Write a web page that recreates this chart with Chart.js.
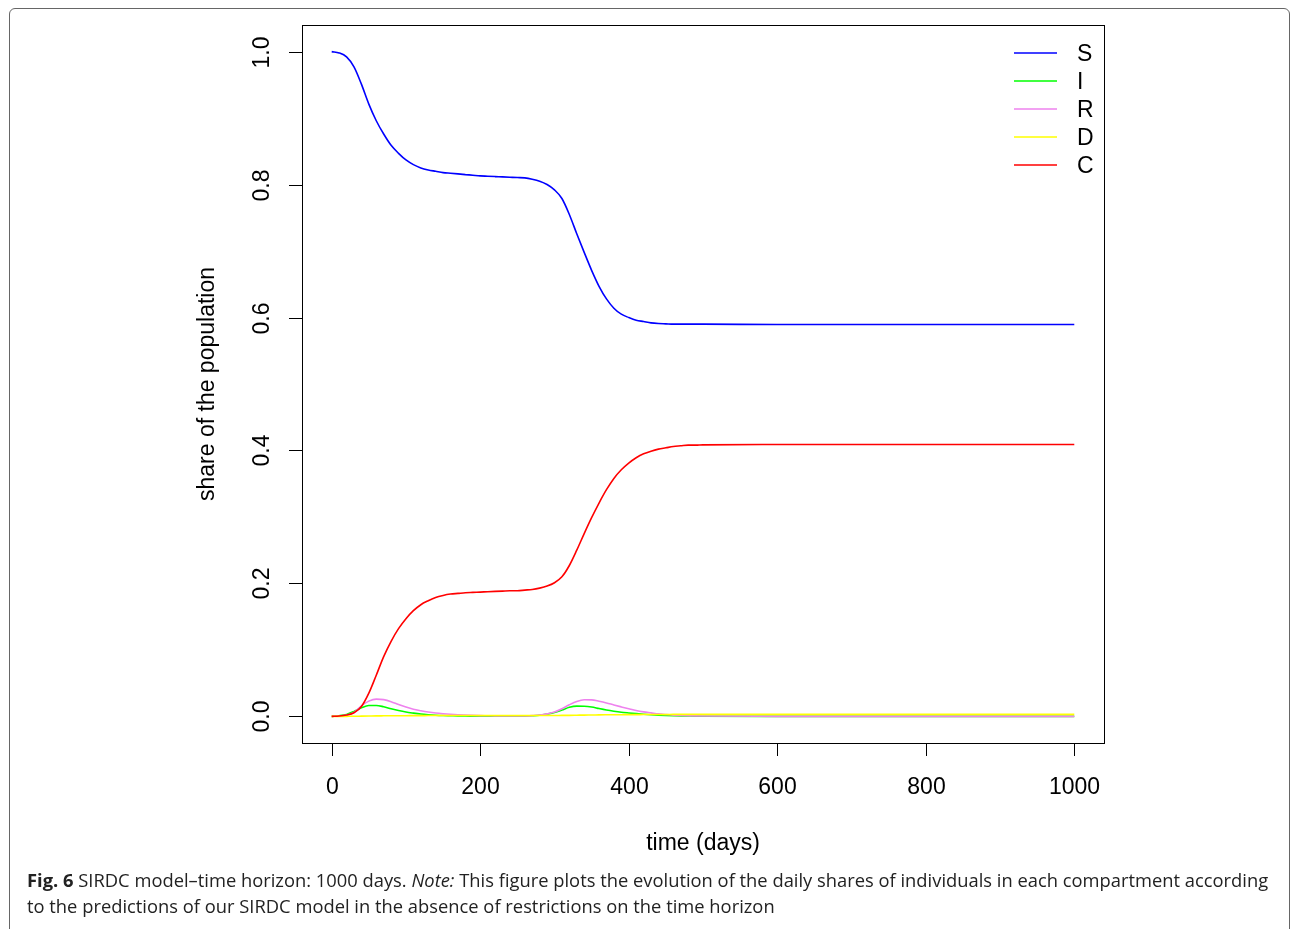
<!DOCTYPE html>
<html>
<head>
<meta charset="utf-8">
<script src="https://cdn.jsdelivr.net/npm/chart.js@4.4.1/dist/chart.umd.min.js"></script>
<style>
  html, body { margin: 0; padding: 0; background: #fff; }
  body { width: 1293px; height: 929px; position: relative; overflow: hidden; }
  #frame {
    position: absolute; left: 9px; top: 8px; width: 1281px; height: 940px;
    border: 1px solid #666; border-radius: 6px; box-sizing: border-box;
  }
  #plot { position: absolute; left: 0; top: 0; }
  .cap {
    position: absolute; left: 27px; font-family: "Open Sans", "Noto Sans", sans-serif;
    font-size: 18px; color: #222; white-space: nowrap; transform-origin: 0 0;
  }
  .cap b { font-weight: 700; }
</style>
</head>
<body>
<div id="frame"></div>
<canvas id="plot" width="1293" height="929"></canvas>
<div class="cap" id="cap1" style="top:868px"><b>Fig. 6</b> SIRDC model–time horizon: 1000 days. <i>Note:</i> This figure plots the evolution of the daily shares of individuals in each compartment according</div>
<div class="cap" id="cap2" style="top:894px">to the predictions of our SIRDC model in the absence of restrictions on the time horizon</div>
<script>
// time grid (days) and shares
const days = [0, 10, 20, 30, 40, 50, 60, 70, 80, 90,
  100, 110, 120, 130, 140, 150, 160, 170, 180, 190,
  200, 210, 220, 230, 240, 250, 260, 270, 280, 290,
  300, 310, 320, 330, 340, 350, 360, 370, 380, 390,
  400, 410, 420, 430, 440, 450, 460, 470, 480, 490,
  500, 600, 700, 800, 900, 1000];

const sVals = [1.000, 0.998, 0.992, 0.977, 0.951, 0.921, 0.896, 0.876, 0.859, 0.847,
  0.837, 0.830, 0.825, 0.822, 0.820, 0.818, 0.817, 0.816, 0.815, 0.814,
  0.813, 0.8125, 0.812, 0.8115, 0.811, 0.8105, 0.810, 0.808, 0.805, 0.800,
  0.792, 0.779, 0.755, 0.726, 0.698, 0.671, 0.647, 0.628, 0.614, 0.605,
  0.600, 0.596, 0.594, 0.592, 0.591, 0.5905, 0.590, 0.590, 0.590, 0.590,
  0.590, 0.5895, 0.5895, 0.5895, 0.5895, 0.5895];

const iVals = [0, 0.001, 0.003, 0.0075, 0.013, 0.0165, 0.0165, 0.0145, 0.0115, 0.0088,
  0.0066, 0.005, 0.0036, 0.0026, 0.0018, 0.0013, 0.001, 0.0007, 0.0005, 0.0004,
  0.0003, 0.0002, 0.0002, 0.0002, 0.0002, 0.0002, 0.0004, 0.0009, 0.0017, 0.0035,
  0.0058, 0.0095, 0.0137, 0.0154, 0.0153, 0.0142, 0.0118, 0.0096, 0.0078, 0.0063,
  0.0052, 0.0042, 0.0033, 0.0026, 0.002, 0.0015, 0.0011, 0.0008, 0.0006, 0.0004,
  0.0003, 0, 0, 0, 0, 0];

const rVals = [0, 0.0005, 0.002, 0.006, 0.016, 0.023, 0.026, 0.0252, 0.0222, 0.0178,
  0.014, 0.0108, 0.0086, 0.0067, 0.0052, 0.0041, 0.0032, 0.0025, 0.0019, 0.0015,
  0.0012, 0.001, 0.0008, 0.0007, 0.0006, 0.0006, 0.0008, 0.0012, 0.002, 0.0038,
  0.0065, 0.0115, 0.0175, 0.0225, 0.025, 0.0248, 0.0228, 0.0203, 0.0172, 0.0143,
  0.0115, 0.0088, 0.0068, 0.0053, 0.0038, 0.0028, 0.002, 0.0015, 0.0011, 0.0008,
  0.0006, 0.0001, 0, 0, 0, 0];

const dVals = [0, 0, 0.0001, 0.0002, 0.0004, 0.0006, 0.0008, 0.0009, 0.001, 0.0011,
  0.0011, 0.0012, 0.0012, 0.0013, 0.0013, 0.0013, 0.0013, 0.0013, 0.0013, 0.0013,
  0.0013, 0.0013, 0.0013, 0.0013, 0.0013, 0.0013, 0.0013, 0.0013, 0.0013, 0.0013,
  0.0014, 0.0015, 0.0016, 0.0018, 0.002, 0.0021, 0.0023, 0.0024, 0.0025, 0.0026,
  0.0027, 0.0027, 0.0028, 0.0028, 0.0029, 0.0029, 0.003, 0.003, 0.003, 0.003,
  0.003, 0.003, 0.003, 0.003, 0.003, 0.003];

const cVals = [0, 0.0005, 0.002, 0.0055, 0.015, 0.035, 0.062, 0.090, 0.113, 0.132,
  0.147, 0.159, 0.168, 0.174, 0.179, 0.182, 0.184, 0.185, 0.186, 0.1865,
  0.187, 0.1875, 0.188, 0.1885, 0.189, 0.189, 0.190, 0.191, 0.193, 0.196,
  0.201, 0.210, 0.227, 0.250, 0.275, 0.299, 0.321, 0.341, 0.358, 0.371,
  0.381, 0.389, 0.395, 0.399, 0.402, 0.404, 0.406, 0.407, 0.408, 0.408,
  0.4085, 0.409, 0.409, 0.409, 0.409, 0.409];

const seriesNames = ['S', 'I', 'R', 'D', 'C'];
const seriesColors = ['#0000ff', '#00ff00', '#ee82ee', '#ffff00', '#ff0000'];
const xTicks = [0, 200, 400, 600, 800, 1000];
const yTicks = [0.0, 0.2, 0.4, 0.6, 0.8, 1.0];

const allVals = [sVals, iVals, rVals, dVals, cVals];
const FONT = '23px "Liberation Sans", Arial, sans-serif';

// R-style box, ticks, labels and legend
const rAxes = {
  id: 'rAxes',
  afterDraw(chart) {
    const ctx = chart.ctx, a = chart.chartArea;
    const xs = chart.scales.x, ys = chart.scales.y;
    ctx.save();
    ctx.strokeStyle = '#000';
    ctx.lineWidth = 1;
    ctx.strokeRect(Math.round(a.left) + 0.5, Math.round(a.top) + 0.5,
      Math.round(a.right - a.left), Math.round(a.bottom - a.top));

    ctx.fillStyle = '#000';
    ctx.font = FONT;
    ctx.textAlign = 'center';
    ctx.textBaseline = 'middle';
    xTicks.forEach(v => {
      const px = Math.round(xs.getPixelForValue(v)) + 0.5;
      ctx.beginPath();
      ctx.moveTo(px, a.bottom);
      ctx.lineTo(px, a.bottom + 13);
      ctx.stroke();
      ctx.fillText(String(v), px, a.bottom + 45);
    });
    yTicks.forEach(v => {
      const py = Math.round(ys.getPixelForValue(v)) + 0.5;
      ctx.beginPath();
      ctx.moveTo(a.left - 13, py);
      ctx.lineTo(a.left, py);
      ctx.stroke();
      ctx.save();
      ctx.translate(a.left - 39, py);
      ctx.rotate(-Math.PI / 2);
      ctx.fillText(v.toFixed(1), 0, 0);
      ctx.restore();
    });

    ctx.fillText('time (days)', (a.left + a.right) / 2, a.bottom + 101);
    ctx.save();
    ctx.translate(a.left - 94, (a.top + a.bottom) / 2);
    ctx.rotate(-Math.PI / 2);
    ctx.fillText('share of the population', 0, 0);
    ctx.restore();

    // legend
    ctx.textAlign = 'left';
    seriesNames.forEach((name, i) => {
      const y = 53 + i * 28;
      ctx.strokeStyle = seriesColors[i];
      ctx.lineWidth = 1.5;
      ctx.beginPath();
      ctx.moveTo(1014, y);
      ctx.lineTo(1057, y);
      ctx.stroke();
      ctx.fillText(name, 1077, y + 2);
    });
    ctx.restore();
  }
};

new Chart(document.getElementById('plot'), {
  type: 'line',
  data: {
    datasets: seriesNames.map((name, i) => ({
      label: name,
      data: days.map((d, k) => ({ x: d, y: allVals[i][k] })),
      borderColor: seriesColors[i],
      borderWidth: 1.6,
      pointRadius: 0,
      fill: false,
      cubicInterpolationMode: 'monotone',
      order: 4 - i
    }))
  },
  options: {
    responsive: false,
    animation: false,
    events: [],
    layout: { padding: { left: 302, right: 189, top: 25, bottom: 186 } },
    plugins: { legend: { display: false }, tooltip: { enabled: false } },
    scales: {
      x: { type: 'linear', min: -40, max: 1040, display: false },
      y: { type: 'linear', min: -0.04, max: 1.04, display: false }
    }
  },
  plugins: [rAxes]
});

// squeeze the caption to the width of the original typesetting
const c1 = document.getElementById('cap1'), c2 = document.getElementById('cap2');
const k = 1241 / c1.offsetWidth;
c1.style.transform = `scaleX(${k})`;
c2.style.transform = `scaleX(${k})`;
</script>
</body>
</html>
